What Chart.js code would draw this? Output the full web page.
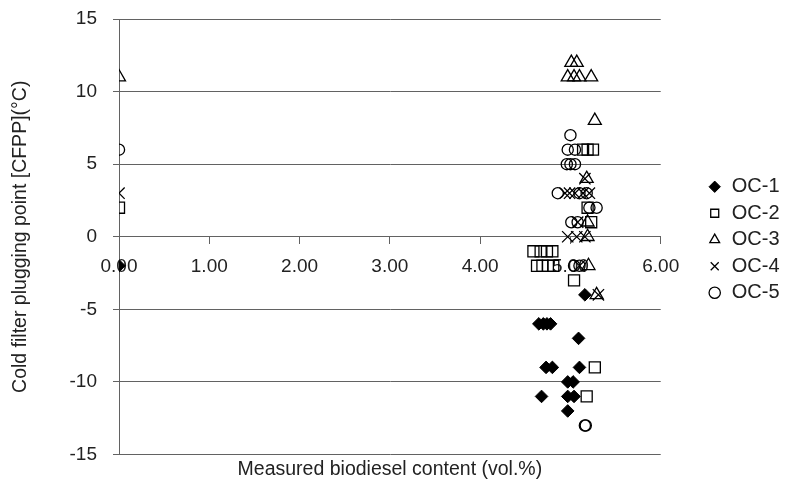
<!DOCTYPE html>
<html><head><meta charset="utf-8">
<style>html,body{margin:0;padding:0;background:#fff}</style>
<script src="https://cdn.jsdelivr.net/npm/chart.js@4/dist/chart.umd.min.js"></script>
</head><body>
<canvas id="c" width="785" height="490" style="width:785px;height:490px;display:block"></canvas>
<script>
const seriesNames = ['OC-1', 'OC-2', 'OC-3', 'OC-4', 'OC-5'];
const xTitle = 'Measured biodiesel content (vol.%)';
const yTitle = 'Cold filter plugging point [CFPP](°C)';
const xTickValues = [0, 1, 2, 3, 4, 5, 6];
const yTickValues = [-15, -10, -5, 0, 5, 10, 15];

const oc1X = [0, 5.16, 4.65, 4.70, 4.74, 4.78, 5.09, 4.73, 4.80, 5.10, 4.97, 5.03, 4.68, 4.97, 5.04, 4.97];
const oc1Y = [-2, -4, -6, -6, -6, -6, -7, -9, -9, -9, -10, -10, -11, -11, -11, -12];

const oc2X = [0, 5.14, 5.19, 5.25, 5.19, 5.23, 4.59, 4.67, 4.74, 4.80, 4.63, 4.69, 4.75, 4.81, 5.04, 5.27, 5.18];
const oc2Y = [2, 6, 6, 6, 2, 1, -1, -1, -1, -1, -2, -2, -2, -2, -3, -9, -11];

const oc3X = [0, 5.01, 5.07, 4.97, 5.04, 5.10, 5.23, 5.27, 5.18, 5.19, 5.19, 5.20, 5.29];
const oc3Y = [11, 12, 12, 11, 11, 11, 11, 8, 4, 1, 0, -2, -4];

const oc4X = [0, 5.16, 4.94, 4.99, 5.05, 5.14, 5.21, 5.08, 4.97, 5.07, 5.16, 5.10, 5.31];
const oc4Y = [3, 4, 3, 3, 3, 3, 3, 1, 0, 0, 0, -2, -4];

const oc5X = [0, 5.00, 4.97, 5.05, 4.96, 5.00, 5.05, 4.86, 5.10, 5.18, 5.21, 5.29, 5.01, 5.08, 5.04, 5.10, 5.16, 5.17];
const oc5Y = [6, 7, 6, 6, 5, 5, 5, 3, 3, 3, 2, 2, 1, 1, -2, -2, -13, -13];

const FONT = "'Liberation Sans', Arial, sans-serif";
const GRID = '#626262';
const TXT = '#222222';

function pts(xs, ys) { return xs.map((x, i) => ({ x: x, y: ys[i] })); }

const datasets = [
  { label: seriesNames[0], data: pts(oc1X, oc1Y), pointStyle: 'rectRot', pointRadius: 6.3, backgroundColor: '#000', borderColor: '#000', borderWidth: 1 },
  { label: seriesNames[1], data: pts(oc2X, oc2Y), pointStyle: 'rect', pointRadius: 7.8, backgroundColor: 'rgba(0,0,0,0)', borderColor: '#000', borderWidth: 1.3 },
  { label: seriesNames[2], data: pts(oc3X, oc3Y), pointStyle: 'triangle', pointRadius: 7.5, backgroundColor: 'rgba(0,0,0,0)', borderColor: '#000', borderWidth: 1.3 },
  { label: seriesNames[3], data: pts(oc4X, oc4Y), pointStyle: 'crossRot', pointRadius: 8, backgroundColor: 'rgba(0,0,0,0)', borderColor: '#000', borderWidth: 1.3 },
  { label: seriesNames[4], data: pts(oc5X, oc5Y), pointStyle: 'circle', pointRadius: 5.6, backgroundColor: 'rgba(0,0,0,0)', borderColor: '#000', borderWidth: 1.3 }
].map(d => Object.assign(d, { xAxisID: 'x', yAxisID: 'y', pointHoverRadius: d.pointRadius, showLine: false }));

new Chart(document.getElementById('c'), {
  type: 'scatter',
  data: { datasets: datasets },
  options: {
    responsive: false,
    animation: false,
    devicePixelRatio: 1,
    layout: { padding: { top: 19, right: -4.5, bottom: 0, left: 0 } },
    plugins: {
      legend: {
        position: 'right',
        fullSize: false,
        align: 'center',
        title: { display: true, text: '', font: { size: 5 }, padding: 0 },
        labels: { usePointStyle: true, boxWidth: 14, boxHeight: 8, padding: 6.5, color: TXT, font: { family: FONT, size: 20 } }
      },
      tooltip: { enabled: false }
    },
    scales: {
      x: {
        type: 'linear', position: { y: 0 }, min: 0, max: 6,
        afterBuildTicks: s => { s.ticks = xTickValues.map(v => ({ value: v })); },
        ticks: { callback: v => Number(v).toFixed(2), color: TXT, font: { family: FONT, size: 19 }, padding: 12, maxRotation: 0, autoSkip: false },
        grid: { drawOnChartArea: false, drawTicks: true, tickLength: 7, color: GRID },
        border: { display: true, color: GRID }
      },
      y: {
        type: 'linear', position: 'left', min: -15, max: 15,
        afterBuildTicks: s => { s.ticks = yTickValues.map(v => ({ value: v })); },
        ticks: { color: TXT, font: { family: FONT, size: 19 }, padding: 16 },
        grid: { color: GRID, tickLength: 6 },
        border: { display: true, color: GRID },
        title: { display: true, text: yTitle, color: TXT, font: { family: FONT, size: 19.5 }, padding: { top: 9, bottom: 0 } },
        afterFit: s => { s.width = 119; s.paddingTop = 0; s.paddingBottom = 0; }
      },
      xt: {
        type: 'linear', position: 'bottom', min: 0, max: 6,
        ticks: { display: false }, grid: { display: false }, border: { display: false },
        title: { display: true, text: xTitle, color: TXT, font: { family: FONT, size: 19.5 }, padding: { top: 9, bottom: 9 } },
        afterFit: s => { s.height = 35.5; }
      },
      yr: {
        type: 'linear', position: 'right', min: 0, max: 1,
        ticks: { display: false }, grid: { display: false }, border: { display: false },
        afterFit: s => { s.width = 40.5; }
      }
    }
  }
});
</script>
</body></html>
